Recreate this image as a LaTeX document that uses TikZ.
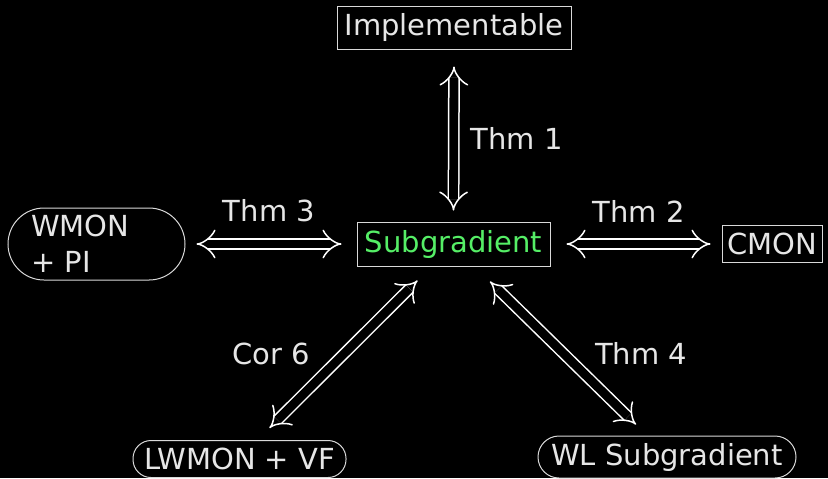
\documentclass[tikz,border=0pt]{standalone}
\usepackage{fontspec}
\setmainfont{DejaVu Sans}
\usetikzlibrary{arrows.meta}
\definecolor{txtgray}{RGB}{230,230,230}
\definecolor{subgreen}{RGB}{85,238,102}

\begin{document}
\begin{tikzpicture}[x=0.5pt,y=-0.5pt,
    every node/.style={font=\fontsize{14.5}{18}\selectfont,text=txtgray,inner sep=0pt},
    sqbox/.style={draw=white!85!black,line width=0.5pt},
    rdbox/.style={draw=white!85!black,line width=0.5pt,rounded corners=#1},
    eqv/.style={white,line width=0.75pt,double=black,double distance=4.4pt,
      {Implies[length=6pt,width=14pt]}-{Implies[length=6pt,width=14pt]}}]
    \fill[black] (0,0) rectangle (828,478);
    \useasboundingbox (0,0) rectangle (828,478);
    \node[sqbox,minimum width=117pt,minimum height=21.5pt] (imp) at (454,27.5) {Implementable};
    \node[sqbox,minimum width=96.5pt,minimum height=22pt,text=subgreen] (sub) at (453.5,244) {Subgradient};
    \node[sqbox,minimum width=50pt,minimum height=18.5pt] (cmon) at (772,244) {CMON};
    \node[rdbox=18pt,text width=65.5pt,inner xsep=11.5pt,minimum height=36pt,align=left] (wmon) at (96.5,244) {WMON\\+ PI};
    \node[rdbox=9pt,minimum width=106.5pt,minimum height=18.5pt] (lw) at (239.5,459) {LWMON + VF};
    \node[rdbox=10.5pt,minimum width=129pt,minimum height=21pt] (wl) at (667,457) {WL Subgradient};
    % connectors
    \draw[eqv] ([yshift=-8.5pt]imp.south) -- ([yshift=5.5pt]sub.north) node[midway,xshift=31.5pt] {Thm 1};
    \draw[eqv] ([xshift=5.5pt]wmon.east) -- ([xshift=-7.5pt]sub.west) node[midway,yshift=16.5pt] {Thm 3};
    \draw[eqv] ([xshift=8pt]sub.east) -- ([xshift=-5.5pt]cmon.west) node[midway,yshift=16.5pt] {Thm 2};
    \draw[eqv] ([shift={(-36,14)}]sub.south) -- ([shift={(30,-12)}]lw.north) node[midway,xshift=-36pt] {Cor 6};
    \draw[eqv] ([shift={(36.5,15)}]sub.south) -- ([shift={(-31,-11)}]wl.north) node[midway,xshift=39pt] {Thm 4};
\end{tikzpicture}
\end{document}
